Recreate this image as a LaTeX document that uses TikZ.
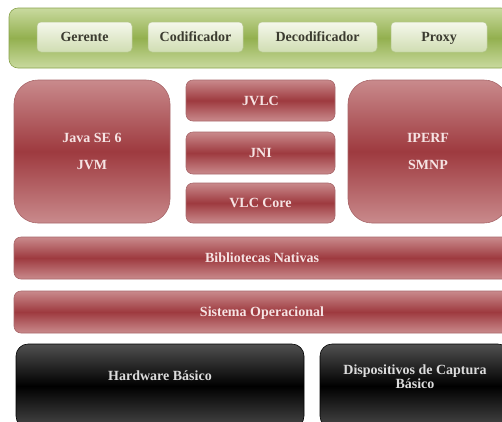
\documentclass[tikz,border=0pt]{standalone}
\usepackage{fontspec}
\setmainfont{Liberation Serif}

\definecolor{greenlight}{HTML}{C9DA9F}
\definecolor{greenmid}{HTML}{93B04F}
\definecolor{greenedge}{HTML}{88A24C}
\definecolor{btntop}{HTML}{F5F8EC}
\definecolor{btnbot}{HTML}{D0DDB2}
\definecolor{btnedge}{HTML}{B5C78E}
\definecolor{btntext}{HTML}{3B3B30}
\definecolor{redlight}{HTML}{C98A8C}
\definecolor{redmid}{HTML}{9E3A3F}
\definecolor{rededge}{HTML}{A8676A}
\definecolor{redtext}{HTML}{F6E4E4}
\definecolor{blacktop}{HTML}{505050}
\definecolor{blackbot}{HTML}{484848}
\definecolor{blacktext}{HTML}{DCDCDC}

\begin{document}
\begin{tikzpicture}[x=1pt,y=-1pt,
  label font/.style={font=\bfseries\fontsize{14}{16}\selectfont},
  one line/.style={text height=11pt,text depth=2pt},
  greenbar/.style={draw=greenedge,line width=0.6pt,rounded corners=9pt,
    top color=greenlight,bottom color=greenlight,middle color=greenmid},
  button/.style={draw=btnedge,line width=0.5pt,rounded corners=4pt,
    top color=btntop,bottom color=btnbot,minimum height=30pt,
    text=btntext,label font,one line},
  redbox/.style={draw=rededge,line width=0.6pt,rounded corners=7pt,
    top color=redlight,bottom color=redlight,middle color=redmid,
    text=redtext,align=center,label font},
  bigred/.style={redbox,rounded corners=24pt,minimum width=#1,minimum height=143pt},
  blackbox/.style={draw=black,line width=0.6pt,rounded corners=12pt,
    top color=blacktop,bottom color=blackbot,middle color=black,minimum height=84pt},
  blacktxt/.style={text=blacktext,align=center,label font}]
  \path[use as bounding box,clip] (0,0) rectangle (502,421);

  % application layer
  \node[greenbar,minimum width=501pt,minimum height=60pt] at (259.5,38) (app) {};
  \node[button,minimum width=95pt]  at (84.5,37)  (ger) {Gerente};
  \node[button,minimum width=95pt]  at (195.5,37) (cod) {Codificador};
  \node[button,minimum width=119pt] at (317.5,37) (dec) {Decodificador};
  \node[button,minimum width=96pt]  at (439,37)   (prx) {Proxy};

  % middleware
  \node[bigred=156pt] at (92,151.5) (java) {Java SE 6\\[11pt]JVM};
  \node[redbox,one line,minimum width=149pt,minimum height=41pt] at (260.5,100.5) (jvlc) {JVLC};
  \node[redbox,one line,minimum width=149pt,minimum height=42pt] at (260.5,153) (jni) {JNI};
  \node[redbox,one line,minimum width=149pt,minimum height=40pt] at (260.5,203) (vlc) {VLC Core};
  \node[bigred=160pt] at (428,151.5) (iperf) {IPERF\\[11pt]SMNP};

  \node[redbox,one line,minimum width=496pt,minimum height=42pt] at (262,258) (bib) {Bibliotecas Nativas};
  \node[redbox,one line,minimum width=496pt,minimum height=42pt] at (262,312) (so) {Sistema Operacional};

  % hardware
  \node[blackbox,minimum width=288pt] at (160,386) (hw) {};
  \node[blackbox,minimum width=190pt] at (415,386) (cap) {};
  \node[blacktxt,one line] at ([yshift=10pt]hw.center) (hwtxt) {Hardware Básico};
  \node[blacktxt] at ([yshift=9pt]cap.center) (captxt) {Dispositivos de Captura\\[-2pt]Básico};
\end{tikzpicture}
\end{document}
